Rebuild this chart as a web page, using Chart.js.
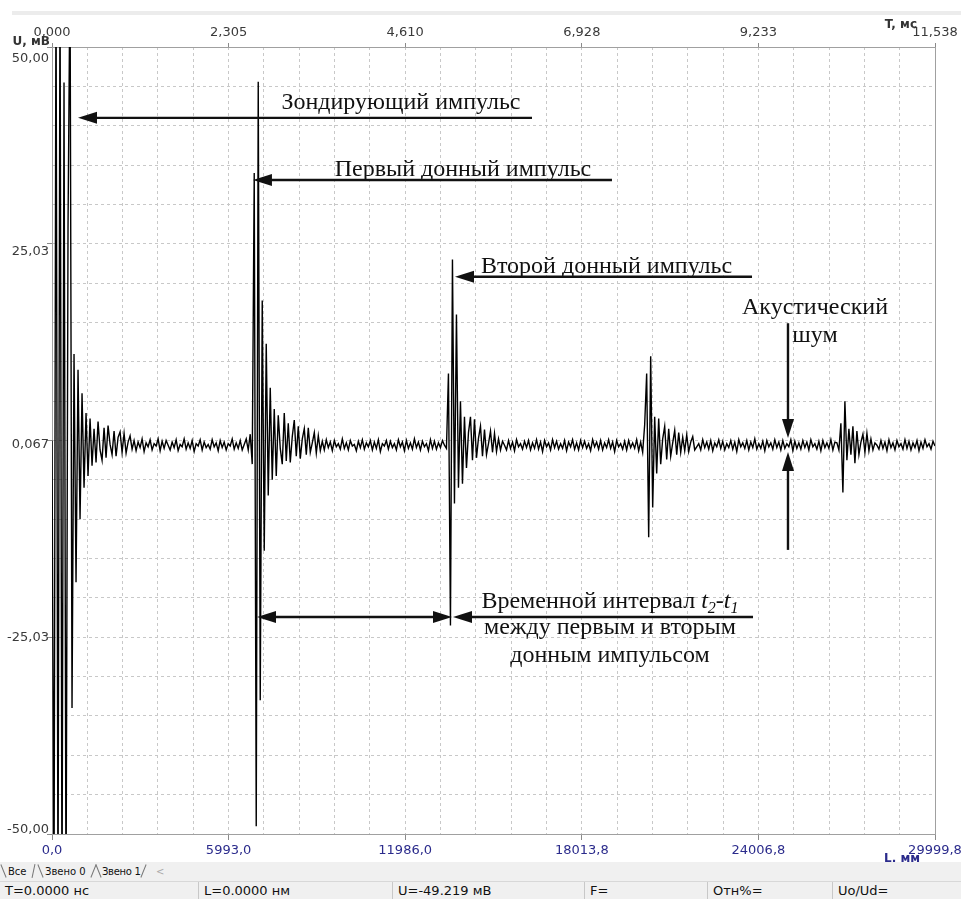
<!DOCTYPE html>
<html>
<head>
<meta charset="utf-8">
<script src="https://cdn.jsdelivr.net/npm/chart.js@4.4.1/dist/chart.umd.min.js"></script>
<style>
  body { margin: 0; background: #fff; width: 961px; height: 899px; overflow: hidden; position: relative; font-family: "DejaVu Sans", sans-serif; }
  #wrap { position: absolute; left: 0; top: 0; width: 961px; height: 862px; }
  #topband { position: absolute; left: 12px; top: 11px; width: 949px; height: 4px; background: #ececec; }
  #tabs { position: absolute; left: 0; top: 862px; width: 961px; height: 19px; background: #f0f0f0; font-size: 10px; color: #111; }
  #tabs span { position: absolute; top: 2px; line-height: 15px; }
  #tabs i { position: absolute; top: 2px; width: 1px; height: 14px; background: #777; }
  #status { position: absolute; left: 0; top: 881px; width: 961px; height: 18px; background: #f0f0f0; border-top: 1px solid #d8d8d8; font-size: 13px; color: #111; }
  #status div { position: absolute; top: 0; height: 18px; line-height: 18px; padding-left: 5px; border-right: 1px solid #c8c8c8; box-sizing: border-box; }
</style>
</head>
<body>
<div id="topband"></div>
<div id="wrap"><canvas id="myChart"></canvas></div>
<div id="tabs">
  <i style="left:3px;transform:rotate(-22deg)"></i><span style="left:8px">Все</span><i style="left:33px;transform:rotate(12deg)"></i>
  <i style="left:40px;transform:rotate(-22deg)"></i><span style="left:45px">Звено 0</span><i style="left:93px;transform:rotate(22deg)"></i>
  <i style="left:98px;transform:rotate(-22deg)"></i><span style="left:102px;letter-spacing:-0.3px">Звено 1</span><i style="left:143px;transform:rotate(22deg)"></i>
  <span style="left:156px;color:#aaa">&lt;</span>
</div>
<div id="status">
  <div style="left:0;width:199px">T=0.0000 нс</div>
  <div style="left:199px;width:194px">L=0.0000 нм</div>
  <div style="left:393px;width:192px">U=-49.219 мВ</div>
  <div style="left:585px;width:123px">F=</div>
  <div style="left:708px;width:125px">Отн%=</div>
  <div style="left:833px;width:128px;border-right:none">Uo/Ud=</div>
</div>
<script>
  "use strict";
  // axis range and tick labels
  var T_MAX = 11.538;
  var tTickLabels = ['0,000', '2,305', '4,610', '6,928', '9,233', '11,538'];
  var lTickLabels = ['0,0', '5993,0', '11986,0', '18013,8', '24006,8', '29999,8'];
  var uTickLabels = ['-50,00', '-25,03', '0,067', '25,03', '50,00'];

  // signal, mV, one sample per ~2 px of the trace, in order
  var probePulse = [0, -60, 60, -60, 60, -60, 45.5, -60, 27, 60,
    -34, 11, -18, 9, -10, 6, -6, 3.5, -4.5, 2.8,
    -3.2, 1.5, -2.8, 2.4, -1.2, -2.5, 1.6, -2.2, 1.9, -0.5,
    -1.8, 1.2, -2, 0.4, 1.1, -1.5, 0.9, -1.6, -0.2, 0.6];
  var noise1 = [-1.1, 0.0, -1.3, -0.2, -0.9, 0.2, -1.4, -0.3, -0.8, 0.1,
    -1.2, -0.4, -0.7, 0.2, -1.3, -0.1, -1.0, 0.0, -0.6, -1.2,
    -0.2, -0.9, 0.1, -1.3, -0.5, -0.8, 0.2, -1.1, -0.3, -1.0,
    0.0, -1.4, -0.4, -0.7, 0.1, -1.2, -0.2, -0.9, -0.5, -1.1,
    0.1, -0.8, -0.3, -1.3, 0.0, -0.9, -0.2, -1.2, -0.4, -0.7,
    0.2, -1.1, -0.3, -1.0, 0.0, -1.2];
  var echo1 = [-0.5, 0.2, -1.2, 0.8, -3, 34, -49, 45.6, -33, 17.8,
    -14, 12.3, -7, 6.7, -5, 4, -4.5, 3.2, -1, -3,
    3.5, -2.6, 2.2, -2.8, 0.5, 2.6, -2, 1.8, -2.3, 0.2,
    1.5, -1.8, 1.6, -1.5, -0.3, 1, -1.6, 0.6, -1.3, -0.1];
  var noise2 = [-1.2, 0.1, -0.9, -0.2, -1.3, 0.0, -0.8, -0.4, -1.1, 0.2,
    -1.0, -0.3, -1.2, 0.0, -0.7, -0.5, -1.3, -0.1, -0.9, 0.1,
    -1.1, -0.3, -0.8, 0.0, -1.2, -0.2, -1.0, 0.1, -1.4, -0.4,
    -0.7, 0.0, -1.1, -0.1, -0.9, -0.4, -1.2, 0.1, -0.8, -0.2,
    -1.3, 0.0, -1.0, -0.3, -1.1, 0.2, -0.9, -0.2, -1.2, -0.1,
    -0.8, -0.4, -1.3, 0.1, -1.0, -0.1, -1.1, -0.3, -0.9, 0.0];
  var echo2 = [-0.6, -1, 8.5, -23.5, 23, -8, 16, -6, 5, -5.5,
    3, -3.5, 1, 3, -2.5, 2.7, -2.2, 0.3, 1.8, -2,
    1.4, -1.8, -0.4, 1.2, -1.5, 0.9, -1.4, 0.2, -1.2, -0.1];
  var noise3 = [-0.6, -1.2, 0.0, -1.0, -0.2, -1.3, 0.1, -0.8, -0.4, -1.1,
    -0.1, -0.9, 0.0, -1.2, -0.3, -1.0, 0.1, -1.1, -0.2, -1.4,
    0.0, -0.8, -0.3, -1.2, 0.1, -0.9, -0.1, -1.1, -0.4, -1.0,
    0.0, -1.3, -0.2, -0.8, 0.1, -1.1, -0.3, -1.2, 0.0, -0.9,
    -0.1, -1.0, -0.4, -1.3, 0.1, -0.8, -0.2, -1.1, 0.0, -1.2,
    -0.3, -0.9, 0.1, -1.0, -0.2, -1.4, 0.0, -0.8, -0.4, -1.1,
    -0.1, -1.2, 0.0, -0.9, -0.3, -1.0, 0.1, -1.3];
  var echo3 = [-0.2, -1.5, 2, 8.5, -12.3, 10.7, -8.5, 3, -4.2, 2.8,
    -3, 0.2, 1.8, -2.4, 1.5, -2, -0.3, 1.3, -1.8, 1,
    -1.5, 0.4, -1.3, 0.7, -1.4, -0.2, 0.5, -1.2];
  var noise4 = [-0.8, -0.4, -1.2, 0.1, -0.9, -0.2, -1.1, 0.0, -1.3, -0.3,
    -0.8, 0.1, -1.0, -0.1, -1.2, -0.4, -0.9, 0.0, -1.1, -0.2,
    -1.4, 0.1, -0.8, -0.3, -1.0, 0.0, -1.2, -0.2, -0.9, 0.2,
    -1.1, -0.4, -1.0, -0.1, -1.3, 0.0, -0.8, -0.3, -1.1, 0.1,
    -0.9, -0.2, -1.2, 0.0, -1.0, -0.4, -0.8, 0.1, -1.3, -0.1,
    -1.0, -0.3, -1.1, 0.0, -0.9, -0.2, -1.2, 0.1, -0.8, -0.4,
    -1.1, -0.1, -1.3, 0.0, -0.9, -0.3, -1.0, 0.1, -1.2, -0.2];
  var echo4 = [-0.3, -1.2, 2.2, -6.6, 5, -2.5, 1.5, -1.8, 1.8, -2.9,
    1.2, -1.8, -0.2, 0.8, -1.5, 0.9, -1.3, 0.2, -1.2, -0.3];
  var noise5 = [-0.6, -1.1, 0.0, -1.0, -0.2, -1.3, 0.1, -0.9, -0.3, -1.2,
    0.0, -0.8, -0.4, -1.1, 0.1, -1.0, -0.1, -1.2, -0.3, -0.9,
    0.0, -1.3, -0.2, -1.0, 0.1, -0.8, -0.4, -1.1, -0.1, -0.7];

  var signal = [].concat(probePulse, noise1, echo1, noise2, echo2, noise3, echo3, noise4, echo4, noise5);
  var dt = T_MAX / (signal.length - 1);
  var points = signal.map(function (u, i) { return { x: i * dt, y: u }; });

  // annotations, in axis units (ms, mV)
  var arrows = [
    { from: [6.272, 41.0], to: [0.340, 41.0] },
    { from: [7.317, 33.1], to: [2.626, 33.1] },
    { from: [9.147, 20.8], to: [5.266, 20.8] },
    { from: [9.617, 14.9], to: [9.617, 0.32] },
    { from: [9.617, -13.9], to: [9.617, -1.46] },
    { from: [2.679, -22.43], to: [5.227, -22.43], both: true },
    { from: [9.160, -22.43], to: [5.240, -22.43] }
  ];
  var notes = [
    { text: 'Зондирующий импульс', at: [4.560, 42.12] },
    { text: 'Первый донный импульс', at: [5.370, 33.61] },
    { text: 'Второй донный импульс', at: [7.246, 21.28] },
    { text: 'Акустический', at: [9.970, 16.07] },
    { text: 'шум', at: [9.970, 12.52] },
    { text: ['Временной интервал ', '*t', '_2', '-', '*t', '_1'], at: [7.291, -21.28] },
    { text: 'между первым и вторым', at: [7.291, -24.59] },
    { text: 'донным импульсом', at: [7.291, -28.14] }
  ];

  var SERIF = '"Liberation Serif", "Times New Roman", serif';
  var NOTE_SIZE = 24;
  var HEAD_LEN = 19, HEAD_HALF = 6;

  function head(ctx, x, y, dx, dy) {
    ctx.beginPath();
    ctx.moveTo(x, y);
    ctx.lineTo(x - dx * HEAD_LEN - dy * HEAD_HALF, y - dy * HEAD_LEN + dx * HEAD_HALF);
    ctx.lineTo(x - dx * HEAD_LEN + dy * HEAD_HALF, y - dy * HEAD_LEN - dx * HEAD_HALF);
    ctx.closePath();
    ctx.fill();
  }

  function pieceFont(p) {
    if (p.charAt(0) === '*') return 'italic ' + NOTE_SIZE + 'px ' + SERIF;
    if (p.charAt(0) === '_') return 'italic ' + Math.round(NOTE_SIZE * 0.65) + 'px ' + SERIF;
    return NOTE_SIZE + 'px ' + SERIF;
  }

  var annotate = {
    id: 'annotate',
    afterDatasetsDraw: function (chart) {
      var ctx = chart.ctx, xs = chart.scales.x, ys = chart.scales.y;
      function px(p) { return [xs.getPixelForValue(p[0]), ys.getPixelForValue(p[1])]; }
      ctx.save();
      ctx.fillStyle = '#111';
      ctx.strokeStyle = '#111';
      ctx.lineWidth = 2.4;
      arrows.forEach(function (a) {
        var p0 = px(a.from), p1 = px(a.to);
        var dx = p1[0] - p0[0], dy = p1[1] - p0[1], d = Math.sqrt(dx * dx + dy * dy);
        dx /= d; dy /= d;
        var sx = p0[0], sy = p0[1];
        if (a.both) { sx += dx * HEAD_LEN * 0.8; sy += dy * HEAD_LEN * 0.8; }
        ctx.beginPath();
        ctx.moveTo(sx, sy);
        ctx.lineTo(p1[0] - dx * HEAD_LEN * 0.8, p1[1] - dy * HEAD_LEN * 0.8);
        ctx.stroke();
        head(ctx, p1[0], p1[1], dx, dy);
        if (a.both) head(ctx, p0[0], p0[1], -dx, -dy);
      });
      ctx.textBaseline = 'alphabetic';
      notes.forEach(function (n) {
        var p = px(n.at);
        if (typeof n.text === 'string') {
          ctx.font = NOTE_SIZE + 'px ' + SERIF;
          ctx.textAlign = 'center';
          ctx.fillText(n.text, p[0], p[1]);
          return;
        }
        ctx.textAlign = 'left';
        var w = 0;
        n.text.forEach(function (s) {
          ctx.font = pieceFont(s);
          w += ctx.measureText(s.replace(/^[*_]/, '')).width;
        });
        var x = p[0] - w / 2;
        n.text.forEach(function (s) {
          ctx.font = pieceFont(s);
          var t = s.replace(/^[*_]/, '');
          ctx.fillText(t, x, p[1] + (s.charAt(0) === '_' ? 5 : 0));
          x += ctx.measureText(t).width;
        });
      });
      ctx.restore();
    },
    afterDraw: function (chart) {
      var ctx = chart.ctx, a = chart.chartArea;
      ctx.save();
      ctx.font = 'bold 12px "DejaVu Sans"';
      ctx.textBaseline = 'alphabetic';
      ctx.textAlign = 'right';
      ctx.fillStyle = '#333';
      ctx.fillText('U, мВ', a.left - 2, a.top - 2);
      ctx.fillText('T, мс', a.right - 18, a.top - 19);
      ctx.fillStyle = '#2b2b8c';
      ctx.fillText('L, мм', a.right - 15, a.bottom + 28);
      ctx.restore();
    }
  };

  function stepTicks(n) {
    return function (scale) {
      var t = [];
      for (var k = 0; k <= n; k++) t.push({ value: scale.min + k * (scale.max - scale.min) / n });
      scale.ticks = t;
    };
  }
  function majorTick(c) { return c.index % 5 === 0 ? '#8a8a8a' : 'rgba(0,0,0,0)'; }
  function fixHeight(h) {
    return function (s) { s.height = h; s.paddingLeft = 0; s.paddingRight = 0; };
  }

  var tickFont = { family: 'DejaVu Sans', size: 13 };
  var GRID = '#c8c8c8', AXIS = '#a0a0a0';

  var ctx = document.getElementById('myChart').getContext('2d');
  var myChart = new Chart(ctx, {
    type: 'line',
    data: {
      datasets: [{
        label: 'U',
        data: points,
        borderColor: '#000',
        borderWidth: 1.4,
        pointRadius: 0,
        tension: 0,
        fill: false,
        xAxisID: 'x',
        yAxisID: 'y'
      }]
    },
    options: {
      responsive: true,
      maintainAspectRatio: false,
      animation: false,
      events: [],
      layout: { padding: { left: 0, right: 26, top: 0, bottom: 0 } },
      plugins: { legend: { display: false }, tooltip: { enabled: false } },
      scales: {
        x: {
          type: 'linear', position: 'bottom', min: 0, max: T_MAX,
          afterBuildTicks: stepTicks(25),
          afterFit: fixHeight(28),
          grid: { color: GRID, tickLength: 6, tickColor: majorTick },
          border: { color: AXIS, dash: [3, 3] },
          ticks: {
            autoSkip: false, maxRotation: 0, padding: 3, color: '#2b2b8c', font: tickFont,
            callback: function (v, i) { return i % 5 === 0 ? lTickLabels[i / 5] : ''; }
          }
        },
        x2: {
          type: 'linear', position: 'top', min: 0, max: T_MAX,
          afterBuildTicks: stepTicks(25),
          afterFit: fixHeight(47),
          grid: { drawOnChartArea: false, tickLength: 4, tickColor: majorTick },
          border: { color: AXIS },
          ticks: {
            autoSkip: false, maxRotation: 0, padding: 3, color: '#3a3a3a', font: tickFont,
            callback: function (v, i) { return i % 5 === 0 ? tTickLabels[i / 5] : ''; }
          }
        },
        y: {
          type: 'linear', position: 'left', min: -50, max: 50, weight: 0,
          afterBuildTicks: stepTicks(20),
          afterFit: function (s) { s.width = 0; },
          grid: { color: GRID, tickLength: 5, tickColor: majorTick },
          border: { color: AXIS, dash: [3, 3] },
          ticks: { display: false }
        },
        yl: {
          type: 'linear', position: 'left', min: -50.52, max: 51.56, weight: 1,
          afterBuildTicks: function (s) { s.ticks = [-50, -25, 0, 25, 50].map(function (v) { return { value: v }; }); },
          afterFit: function (s) { s.width = 52; },
          grid: { display: false, drawTicks: false, tickLength: 0 },
          border: { display: false },
          ticks: {
            autoSkip: false, padding: 3, color: '#3a3a3a', font: tickFont,
            callback: function (v, i) { return uTickLabels[i]; }
          }
        },
        yr: {
          type: 'linear', position: 'right', min: 0, max: 1,
          afterFit: function (s) { s.width = 0; },
          grid: { drawOnChartArea: false, drawTicks: false },
          border: { color: AXIS },
          ticks: { display: false }
        }
      }
    },
    plugins: [annotate]
  });
</script>
</body>
</html>
